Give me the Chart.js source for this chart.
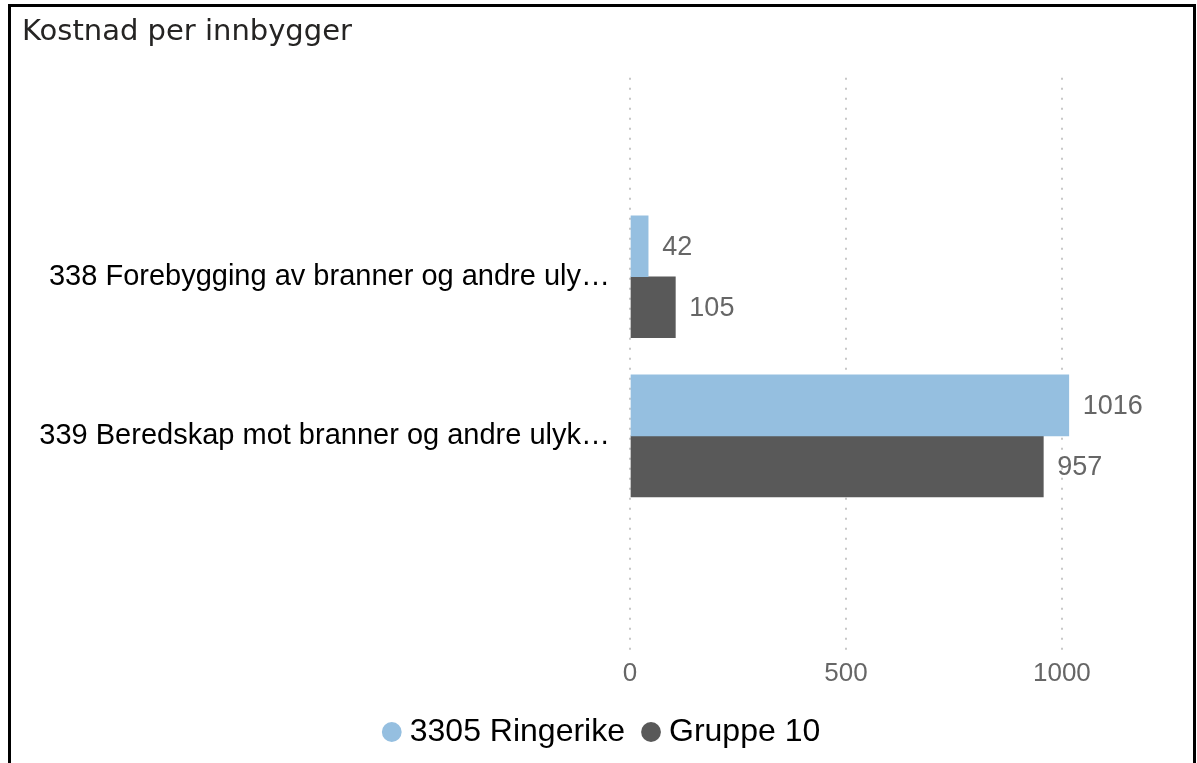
<!DOCTYPE html>
<html>
<head>
<meta charset="utf-8">
<script src="https://cdn.jsdelivr.net/npm/chart.js@4/dist/chart.umd.min.js"></script>
<style>
  html, body { margin: 0; padding: 0; background: #fff; overflow: hidden; }
  #frame {
    position: absolute; left: 8px; top: 4px; width: 1182px; height: 800px;
    border: 3px solid #000; border-bottom: none;
  }
  #wrap { position: absolute; left: 0; top: 0; width: 1197px; height: 763px; }
</style>
</head>
<body>
<div id="frame"></div>
<div id="wrap"><canvas id="chart"></canvas></div>
<script>
var categories = [
  '338 Forebygging av branner og andre ulykker',
  '339 Beredskap mot branner og andre ulykker'
];
var seriesNames = ['3305 Ringerike', 'Gruppe 10'];
var ringerike = [42, 1016];
var gruppe10 = [105, 957];
var xTickValues = [0, 500, 1000];

var colors = ['#95bfe0', '#595959'];
var labelFont = '"Liberation Sans", Arial, sans-serif';
var categoryFontSize = 29;

// cut long category names with an ellipsis, like the report does
var measureCtx = document.createElement('canvas').getContext('2d');
function fitLabel(text, maxWidth) {
  measureCtx.font = categoryFontSize + 'px ' + labelFont;
  if (measureCtx.measureText(text).width <= maxWidth) return text;
  var cut = text;
  while (cut.length > 1 && measureCtx.measureText(cut + '\u2026').width > maxWidth) {
    cut = cut.slice(0, -1);
  }
  return cut.replace(/\s+$/, '') + '\u2026';
}

function toPoints(values) {
  return values.map(function(v, i) { return {x: v, y: i}; });
}

var valueLabels = {
  id: 'valueLabels',
  afterDatasetsDraw: function(chart) {
    var ctx = chart.ctx;
    ctx.save();
    ctx.font = '27px ' + labelFont;
    ctx.fillStyle = '#666666';
    ctx.textAlign = 'left';
    ctx.textBaseline = 'middle';
    chart.data.datasets.forEach(function(ds, di) {
      var meta = chart.getDatasetMeta(di);
      meta.data.forEach(function(bar, i) {
        ctx.fillText(String(ds.data[i].x), bar.x + 14, bar.y + 1);
      });
    });
    ctx.restore();
  }
};

new Chart(document.getElementById('chart'), {
  type: 'bar',
  data: {
    datasets: [
      { label: seriesNames[0], data: toPoints(ringerike), backgroundColor: colors[0], barThickness: 61 },
      { label: seriesNames[1], data: toPoints(gruppe10), backgroundColor: colors[1], barThickness: 61 }
    ]
  },
  options: {
    indexAxis: 'y',
    responsive: true,
    maintainAspectRatio: false,
    animation: false,
    layout: { padding: { left: 22, right: 9, top: 7, bottom: 5 } },
    scales: {
      x: {
        type: 'linear',
        min: 0,
        max: 1292,
        afterBuildTicks: function(scale) {
          scale.ticks = xTickValues.map(function(v) { return {value: v}; });
        },
        ticks: {
          color: '#666666',
          font: { family: labelFont, size: 26 },
          padding: 3,
          callback: function(value) { return String(value); }
        },
        grid: { color: '#c8c8c8', lineWidth: 2, drawTicks: false },
        border: { display: false, dash: [2, 8] }
      },
      y: {
        type: 'linear',
        reverse: true,
        offset: false,
        min: -1.25,
        max: 2.375,
        afterBuildTicks: function(scale) {
          scale.ticks = categories.map(function(c, i) { return {value: i}; });
        },
        afterFit: function(scale) { scale.width = 608; },
        ticks: {
          color: '#000000',
          font: { family: labelFont, size: categoryFontSize },
          padding: 20,
          callback: function(value) { return fitLabel(categories[value], 573); }
        },
        grid: { display: false, drawTicks: false, offset: false },
        border: { display: false }
      }
    },
    plugins: {
      title: {
        display: true,
        text: 'Kostnad per innbygger',
        align: 'start',
        color: '#252423',
        font: { family: '"DejaVu Sans"', size: 29, weight: '400' },
        padding: { top: 8, bottom: 28 }
      },
      legend: {
        position: 'bottom',
        labels: {
          usePointStyle: true,
          pointStyle: 'circle',
          boxWidth: 4,
          boxHeight: 14,
          padding: 24,
          color: '#000000',
          font: { family: labelFont, size: 32 }
        }
      },
      tooltip: { enabled: false }
    }
  },
  plugins: [valueLabels]
});
</script>
</body>
</html>
